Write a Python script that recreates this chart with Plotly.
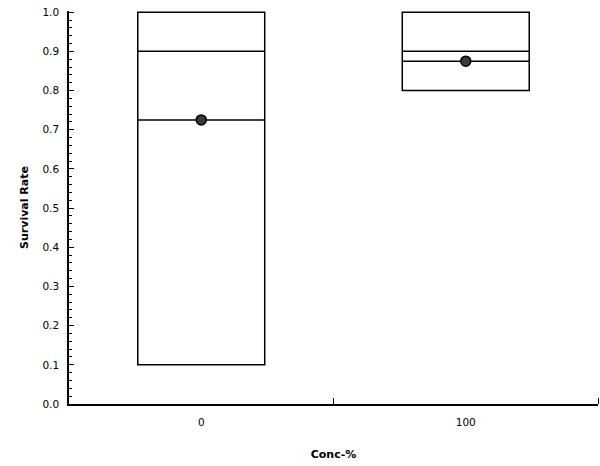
import plotly.graph_objects as go

categories = ["0", "100"]
q1 = [0.1, 0.8]
q3 = [1.0, 1.0]
median = [0.9, 0.9]
mean = [0.725, 0.875]
ytick_vals = [0.0, 0.1, 0.2, 0.3, 0.4, 0.5, 0.6, 0.7, 0.8, 0.9, 1.0]

half = 0.24
fig = go.Figure()
for i, c in enumerate(categories):
    fig.add_trace(go.Box(
        x=[i], q1=[q1[i]], median=[median[i]], q3=[q3[i]],
        lowerfence=[q1[i]], upperfence=[q3[i]],
        width=2 * half, fillcolor="white",
        line=dict(color="black", width=1.5),
        whiskerwidth=0, showlegend=False, hoverinfo="skip",
    ))
    fig.add_trace(go.Scatter(
        x=[i - half, i + half], y=[mean[i], mean[i]], mode="lines",
        line=dict(color="black", width=1.5), showlegend=False, hoverinfo="skip",
    ))
    fig.add_trace(go.Scatter(
        x=[i], y=[mean[i]], mode="markers",
        marker=dict(size=10, color="#3a3a3a", line=dict(color="black", width=1.5)),
        showlegend=False,
    ))

fig.update_layout(
    width=600, height=466,
    margin=dict(l=69, r=2, t=11, b=62),
    paper_bgcolor="white", plot_bgcolor="white",
    font=dict(family="DejaVu Sans", size=11, color="black"),
    xaxis=dict(
        range=[-0.5, 1.5], tickvals=[0, 1], ticktext=categories,
        ticks="", showgrid=False, zeroline=False, automargin=False,
        showline=True, linecolor="black", linewidth=1.5,
        minor=dict(tickvals=[0.5, 1.5], ticks="inside", ticklen=6, tickcolor="black", showgrid=False),
        title=dict(text="<b>Conc-%</b>", font=dict(size=11), standoff=23),
        tickfont=dict(size=10.5), ticklabelstandoff=8,
    ),
    yaxis=dict(
        range=[0, 1.003], tickvals=ytick_vals, tickformat=".1f",
        ticks="inside", ticklen=5, tickcolor="black",
        showgrid=False, zeroline=False, automargin=False,
        showline=True, linecolor="black", linewidth=1.5,
        minor=dict(dtick=0.02, ticks="inside", ticklen=3, tickcolor="black", showgrid=False),
        title=dict(text="<b>Survival Rate</b>", font=dict(size=11), standoff=12),
        tickfont=dict(size=10.5), ticklabelstandoff=6,
    ),
)
fig.write_html("out.html", config={"displayModeBar": False},
               post_script="document.body.style.margin='0';document.body.style.overflow='hidden';")
